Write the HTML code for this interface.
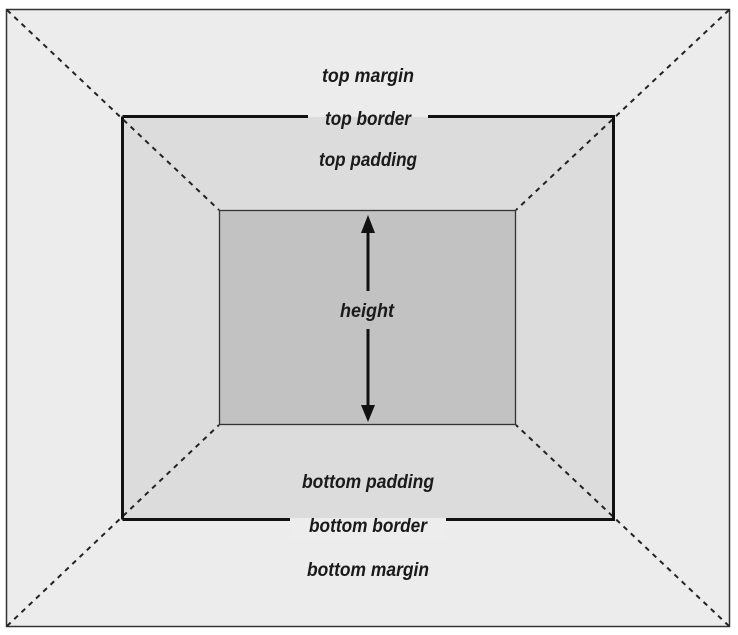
<!DOCTYPE html>
<html><head><style>
html,body{margin:0;padding:0;background:#fff;width:738px;height:635px;overflow:hidden}
text{font-family:"Liberation Sans",sans-serif;font-weight:bold;font-style:italic;font-size:19px;fill:#1a1a1a}
</style></head><body>
<svg width="738" height="635" viewBox="0 0 738 635" xmlns="http://www.w3.org/2000/svg">
<rect x="6.5" y="9.5" width="723" height="617" fill="#ececec" stroke="#333" stroke-width="1.5"/>
<rect x="122.5" y="116.5" width="491" height="403" fill="#dcdcdc"/>
<g stroke="#222" stroke-width="2" stroke-dasharray="5,5">
<line x1="7" y1="10" x2="219" y2="210"/>
<line x1="729" y1="10" x2="516" y2="210"/>
<line x1="7" y1="626" x2="219" y2="425"/>
<line x1="729" y1="626" x2="516" y2="425"/>
</g>
<rect x="219.5" y="210.5" width="296" height="214" fill="#c2c2c2" stroke="#333" stroke-width="1.3"/>
<path d="M122.5 116.5 H308 M428 116.5 H613.5 V519.5 H446 M290 519.5 H122.5 Z" fill="none" stroke="#111" stroke-width="3"/>
<path d="M122.5 116.5 V519.5" stroke="#111" stroke-width="3"/>
<rect x="290" y="518" width="156" height="21" fill="#ededed"/>
<rect x="308" y="105" width="120" height="12" fill="#ececec"/>
<line x1="368" y1="228" x2="368" y2="291" stroke="#111" stroke-width="3"/>
<line x1="368" y1="329" x2="368" y2="408" stroke="#111" stroke-width="3"/>
<polygon points="368,215 361,233 375,233" fill="#111"/>
<polygon points="368,422 361,405 375,405" fill="#111"/>
<g text-anchor="middle">
<text x="368" y="82" textLength="92" lengthAdjust="spacingAndGlyphs">top margin</text>
<text x="368" y="125" textLength="86" lengthAdjust="spacingAndGlyphs">top border</text>
<text x="368" y="166" textLength="98" lengthAdjust="spacingAndGlyphs">top padding</text>
<text x="367" y="317" textLength="54" lengthAdjust="spacingAndGlyphs">height</text>
<text x="368" y="488" textLength="132" lengthAdjust="spacingAndGlyphs">bottom padding</text>
<text x="368" y="532" textLength="118" lengthAdjust="spacingAndGlyphs">bottom border</text>
<text x="368" y="576" textLength="122" lengthAdjust="spacingAndGlyphs">bottom margin</text>
</g>
</svg>
</body></html>
